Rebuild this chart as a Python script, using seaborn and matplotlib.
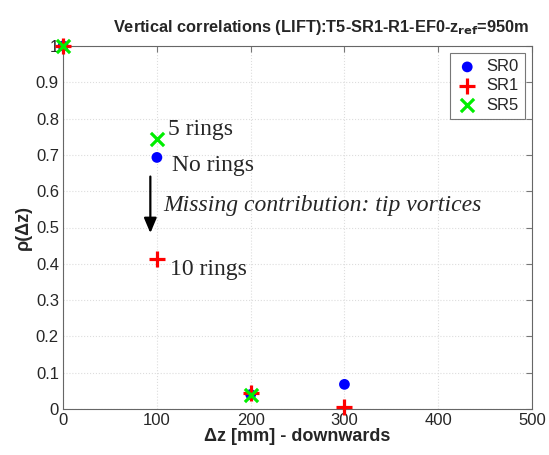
import matplotlib
matplotlib.use("Agg")
import matplotlib.pyplot as plt
import seaborn as sns
import pandas as pd

series = ["SR0", "SR1", "SR5"]
dz_sr0 = [0, 100, 200, 300]
rho_sr0 = [1.0, 0.693, 0.04, 0.068]
dz_sr1 = [0, 100, 200, 300]
rho_sr1 = [1.0, 0.413, 0.045, 0.005]
dz_sr5 = [0, 100, 200]
rho_sr5 = [1.0, 0.743, 0.04]

xticks = [0, 100, 200, 300, 400, 500]
yticks = [0, 0.1, 0.2, 0.3, 0.4, 0.5, 0.6, 0.7, 0.8, 0.9, 1]
ytick_labels = ["0", "0.1", "0.2", "0.3", "0.4", "0.5", "0.6", "0.7", "0.8", "0.9", "1"]

df = pd.concat([
    pd.DataFrame({"dz": dz_sr0, "rho": rho_sr0, "series": "SR0"}),
    pd.DataFrame({"dz": dz_sr1, "rho": rho_sr1, "series": "SR1"}),
    pd.DataFrame({"dz": dz_sr5, "rho": rho_sr5, "series": "SR5"}),
], ignore_index=True)

sns.set_style("white")
plt.rcParams["font.family"] = ["Liberation Sans", "DejaVu Sans"]

fig = plt.figure(figsize=(5.49, 4.55), dpi=100)
ax = fig.add_axes([0.115, 0.101, 0.854, 0.798])

palette = {"SR0": "#0000ff", "SR1": "#ff0000", "SR5": "#00ee00"}

for name, mk, sz in [("SR0", "o", 60), ("SR1", "+", 120), ("SR5", "x", 90)]:
    sub = df[df["series"] == name]
    if mk == "o":
        sns.scatterplot(data=sub, x="dz", y="rho", ax=ax, color=palette[name],
                        marker=mk, s=sz, edgecolor="none", label=name, zorder=3, clip_on=False)
    else:
        sns.scatterplot(data=sub, x="dz", y="rho", ax=ax, color=palette[name],
                        marker=mk, s=sz, linewidth=2.3, label=name, zorder=3, clip_on=False)

ax.set_xlim(0, 500)
ax.set_ylim(0, 1)
ax.set_xticks(xticks)
ax.set_yticks(yticks)
ax.set_yticklabels(ytick_labels)
ax.tick_params(direction="in", length=4, labelsize=12, top=True, right=True,
               color="#777777", pad=3)
ax.grid(True, linestyle=":", color="#dddddd", linewidth=0.8)
for sp in ax.spines.values():
    sp.set_color("#666666")
    sp.set_linewidth(0.8)

ax.set_xlabel("Δz [mm] - downwards", fontsize=13, fontweight="bold", labelpad=0)
ax.set_ylabel("ρ(Δz)", fontsize=13, fontweight="bold", labelpad=3)
ax.set_title("Vertical correlations (LIFT):T5-SR1-R1-EF0-z$_{\\mathbf{ref}}$=950m",
             fontsize=11.8, fontweight="bold", pad=10, x=0.55)

leg = ax.legend(loc="upper right", fontsize=12, frameon=True, fancybox=False,
                edgecolor="#555555", handletextpad=0.5, borderaxespad=0.4,
                labelspacing=0.25, handlelength=1.3, borderpad=0.4)
leg.get_frame().set_linewidth(0.8)

serif = ["Liberation Serif", "DejaVu Serif"]
ax.text(112, 0.77, "5 rings", fontsize=17, family=serif, va="center")
ax.text(116, 0.672, "No rings", fontsize=17, family=serif, va="center")
ax.text(107, 0.56, "Missing contribution: tip vortices", fontsize=17,
        family=serif, style="italic", va="center")
ax.text(114, 0.385, "10 rings", fontsize=17, family=serif, va="center")
ax.annotate("", xy=(93, 0.477), xytext=(93, 0.648),
            arrowprops=dict(arrowstyle="-|>,head_width=0.38,head_length=0.9",
                            color="black", lw=1.6))

fig.savefig("out.png", dpi=100)
